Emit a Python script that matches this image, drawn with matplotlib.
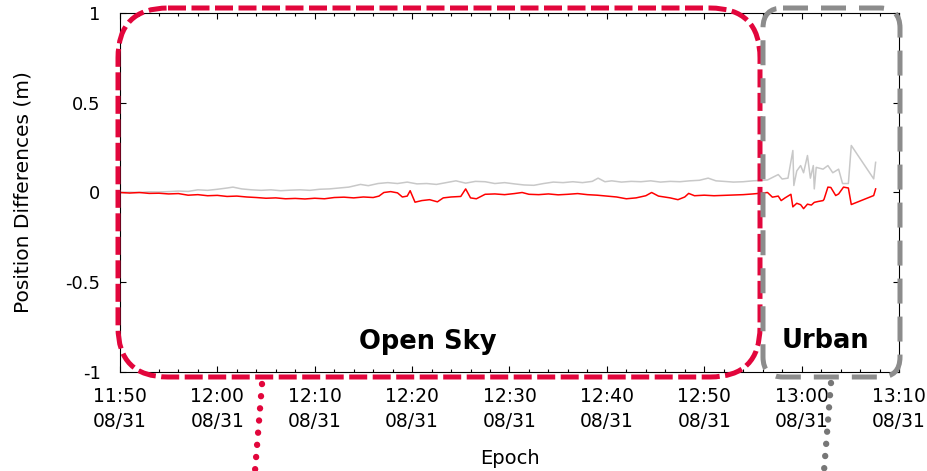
import numpy as np
import matplotlib
matplotlib.use("Agg")
import matplotlib.pyplot as plt
import matplotlib.dates as mdates
from matplotlib.patches import FancyBboxPatch
from datetime import datetime, timedelta

# minutes after 11:50 (08/31) and position differences in metres
red_min = [0, 1, 2, 3, 4, 5, 6, 7, 8, 9, 10, 11, 12, 13, 14, 15, 16, 17, 18, 19,
           20, 21, 22, 23, 24, 25, 26, 26.6, 27.1, 27.8, 28.5, 29.0, 29.5, 29.8, 30.3,
           31.0, 31.8, 32.6, 33.2, 34.0, 35.0, 35.5, 36.0, 36.6, 37.5, 38.5, 39.5, 40.5,
           41.3, 42.0, 43.0, 44.0, 45.0, 46.0, 47.0, 48.0, 49.0, 50.0, 51.0, 52.0, 53.0,
           54.0, 54.6, 55.3, 56.5, 57.3, 58.0, 58.4, 59.0, 60.0, 61.0, 62.0, 63.0, 64.0,
           65.0, 65.8, 66.5, 67.0, 67.6, 67.9, 68.3, 68.9, 69.1, 69.5, 69.9, 70.2, 70.6,
           71.0, 71.3, 71.7, 72.2, 72.3, 72.7, 73.0, 73.5, 73.8, 74.3, 74.8, 75.1, 77.4,
           77.6]
red_val = [0.0, -0.003, 0.0, -0.005, -0.004, -0.008, -0.006, -0.015, -0.012, -0.018,
           -0.016, -0.022, -0.02, -0.025, -0.028, -0.032, -0.03, -0.035, -0.033, -0.036,
           -0.032, -0.035, -0.028, -0.026, -0.03, -0.025, -0.028, -0.02, 0.0, 0.005,
           -0.002, -0.025, -0.02, 0.01, -0.054, -0.045, -0.04, -0.052, -0.03, -0.025,
           -0.022, 0.02, -0.03, -0.035, -0.01, -0.008, -0.012, -0.006, 0.0, -0.01,
           -0.012, -0.008, -0.013, -0.01, -0.006, -0.012, -0.015, -0.02, -0.025, -0.035,
           -0.03, -0.018, 0.0, -0.02, -0.03, -0.04, -0.025, -0.005, -0.018, -0.015,
           -0.018, -0.016, -0.014, -0.012, -0.008, -0.004, 0.0, -0.026, -0.02, -0.045,
           -0.03, -0.01, -0.08, -0.06, -0.068, -0.09, -0.065, -0.07, -0.055, -0.05,
           -0.045, -0.038, 0.03, 0.028, -0.017, -0.008, 0.03, 0.025, -0.067, -0.017,
           0.02]

grey_min = [0, 1, 2, 3, 4, 5, 6, 7, 8, 9, 10, 11, 11.6, 12.5, 13.5, 14.5, 15.5, 16.5,
            17.5, 18.5, 19.5, 20.5, 21.5, 22.5, 23.5, 24.7, 25.5, 26.5, 27.5, 28.5, 29.5,
            30.5, 31.5, 32.5, 33.5, 34.5, 35.5, 36.5, 37.5, 38.5, 39.5, 40.5, 41.5, 42.5,
            43.5, 44.5, 45.5, 46.5, 47.5, 48.5, 49.1, 49.8, 50.5, 51.5, 52.5, 53.5, 54.5,
            55.5, 56.5, 57.5, 58.5, 59.5, 60.4, 61.2, 62.0, 63.0, 64.0, 65.0, 65.8, 66.5,
            67.6, 68.0, 68.6, 69.1, 69.2, 69.5, 69.9, 70.2, 70.6, 70.9, 71.2, 71.3, 71.5,
            72.2, 72.7, 73.2, 73.8, 74.2, 74.8, 75.1, 77.4, 77.6]
grey_val = [0.0, 0.002, 0.0, 0.004, 0.003, 0.005, 0.008, 0.006, 0.015, 0.012, 0.018,
            0.025, 0.03, 0.02, 0.015, 0.012, 0.015, 0.01, 0.013, 0.015, 0.012, 0.018,
            0.02, 0.025, 0.03, 0.045, 0.038, 0.05, 0.055, 0.05, 0.058, 0.048, 0.05, 0.045,
            0.055, 0.065, 0.052, 0.062, 0.06, 0.05, 0.055, 0.048, 0.042, 0.04, 0.05,
            0.058, 0.055, 0.06, 0.055, 0.062, 0.08, 0.06, 0.065, 0.058, 0.062, 0.06,
            0.065, 0.058, 0.062, 0.06, 0.065, 0.068, 0.08, 0.065, 0.062, 0.058, 0.06,
            0.065, 0.067, 0.07, 0.1, 0.075, 0.08, 0.234, 0.039, 0.12, 0.15, 0.11, 0.206,
            0.08, 0.15, 0.02, 0.14, 0.13, 0.15, 0.11, 0.13, 0.05, 0.05, 0.262, 0.076,
            0.168]

yticks = [-1, -0.5, 0, 0.5, 1]
ytick_labels = ["-1", "-0.5", "0", "0.5", "1"]

start = datetime(2021, 8, 31, 11, 50)
red_t = [start + timedelta(minutes=m) for m in red_min]
grey_t = [start + timedelta(minutes=m) for m in grey_min]

plt.rcParams['font.family'] = ['DejaVu Sans']

fig = plt.figure(figsize=(9.27, 4.71), dpi=100)
ax = fig.add_axes([0.1294, 0.2102, 0.8404, 0.7622])

ax.plot(grey_t, grey_val, color='#c8c8c8', lw=1.1)
ax.plot(red_t, red_val, color='#ff0000', lw=1.1)

ax.set_xlim(start, start + timedelta(minutes=80))
ax.set_ylim(-1, 1)
ax.set_yticks(yticks)
ax.set_yticklabels(ytick_labels)
ax.xaxis.set_major_locator(mdates.MinuteLocator(byminute=range(0, 60, 10)))
ax.xaxis.set_minor_locator(mdates.MinuteLocator(byminute=range(0, 60, 2)))
ax.xaxis.set_major_formatter(mdates.DateFormatter('%H:%M\n%m/%d'))
ax.tick_params(which='both', direction='in', top=True, right=True, width=0.8)
ax.tick_params(which='major', length=4.5)
ax.tick_params(axis='x', which='major', pad=11, labelsize=13.5)
ax.tick_params(axis='y', which='major', pad=14, labelsize=13)
ax.tick_params(which='minor', length=2.5)
for lab in ax.get_xticklabels():
    lab.set_linespacing(1.38)
for s in ax.spines.values():
    s.set_linewidth(0.8)
ax.set_xlabel('Epoch', fontsize=14, labelpad=13)
ax.set_ylabel('Position Differences (m)', fontsize=14.5, labelpad=24)

# overlay in pixel units for the region boxes and pointers
ov = fig.add_axes([0, 0, 1, 1], zorder=5)
ov.set_xlim(0, 927)
ov.set_ylim(471, 0)
ov.axis('off')
ov.patch.set_alpha(0)

crimson = '#e2063c'
ov.add_patch(FancyBboxPatch((118, 8), 642, 369, boxstyle="round,pad=0,rounding_size=50",
                            fill=False, ec=crimson, lw=3.6, ls=(0, (3.6, 1.1)),
                            capstyle='butt'))
ov.add_patch(FancyBboxPatch((763, 8), 137, 369, boxstyle="round,pad=0,rounding_size=20",
                            fill=False, ec='#8c8c8c', lw=3.6, ls=(0, (5, 2.6)),
                            capstyle='butt'))
ov.plot([262, 255], [384, 471], color=crimson, lw=4.6, ls=(0, (0.01, 1.9)),
        dash_capstyle='round')
ov.plot([831, 824], [383, 471], color='#777777', lw=4.6, ls=(0, (0.01, 1.9)),
        dash_capstyle='round')
ov.text(428, 342, 'Open Sky', fontsize=18.5, fontweight='bold', ha='center', va='center')
ov.text(825, 341, 'Urban', fontsize=18.5, fontweight='bold', ha='center', va='center')

fig.savefig('out.png', dpi=100)
